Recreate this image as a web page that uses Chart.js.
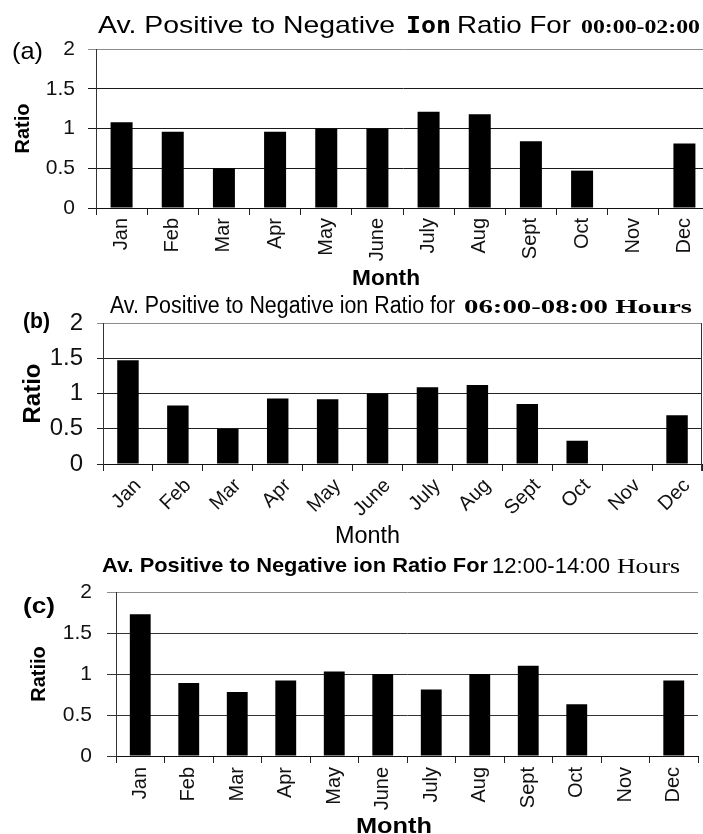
<!DOCTYPE html>
<html>
<head>
<meta charset="utf-8">
<title>Av. Positive to Negative Ion Ratio</title>
<script src="https://cdn.jsdelivr.net/npm/chart.js@4.4.1/dist/chart.umd.min.js"></script>
<style>
  html, body { margin: 0; padding: 0; background: #fff; overflow: hidden; width: 703px; height: 834px; }
  canvas { position: absolute; left: 0; }
  #panelA { top: 0; }
  #panelB { top: 290px; }
  #panelC { top: 550px; }
</style>
</head>
<body>
<canvas id="panelA" width="712" height="290"></canvas>
<canvas id="panelB" width="703" height="260"></canvas>
<canvas id="panelC" width="703" height="284"></canvas>
<script>
// monthly averages of positive / negative ion ratio, three time windows
const months = ['Jan', 'Feb', 'Mar', 'Apr', 'May', 'June', 'July', 'Aug', 'Sept', 'Oct', 'Nov', 'Dec'];
const ratio0002 = [1.08, 0.96, 0.50, 0.96, 1.00, 1.00, 1.21, 1.18, 0.84, 0.47, null, 0.81];
const ratio0608 = [1.47, 0.83, 0.50, 0.93, 0.92, 1.00, 1.09, 1.12, 0.85, 0.33, null, 0.69];
const ratio1214 = [1.73, 0.89, 0.78, 0.92, 1.03, 1.00, 0.81, 1.00, 1.10, 0.63, null, 0.92];
const yTicks = [0, 0.5, 1, 1.5, 2];

const SANS = "'Liberation Sans', Arial, sans-serif";
const SERIF = "'Liberation Serif', 'Times New Roman', serif";
const MONO = "'DejaVu Sans Mono', 'Courier New', monospace";

// free-standing text (headings, panel letter, x caption); each run is
// stretched or squeezed horizontally so it covers x0..x1
function textRuns(runs, frameRight){
  return {
    id: 'textRuns',
    afterDraw(chart){
      const ctx = chart.ctx;
      ctx.save();
      ctx.fillStyle = '#000';
      ctx.textBaseline = 'alphabetic';
      ctx.textAlign = 'left';
      runs.forEach(r => {
        ctx.font = r.font;
        const w = ctx.measureText(r.text).width;
        ctx.save();
        ctx.translate(r.x0, r.y);
        ctx.scale((r.x1 - r.x0) / w, 1);
        ctx.fillText(r.text, 0, 0);
        ctx.restore();
      });
      if(frameRight){
        const a = chart.chartArea;
        ctx.strokeStyle = '#333'; ctx.lineWidth = 1;
        ctx.beginPath(); ctx.moveTo(a.right - 0.5, a.top); ctx.lineTo(a.right - 0.5, a.bottom + 7); ctx.stroke();
      }
      ctx.restore();
    }
  };
}

function buildPanel(id, values, o){
  return new Chart(document.getElementById(id), {
    type: 'bar',
    data: {
      labels: months,
      datasets: [{ data: values, backgroundColor: '#000', borderWidth: 0, barPercentage: 0.43, categoryPercentage: 1 }]
    },
    options: {
      responsive: false,
      animation: false,
      devicePixelRatio: 1,
      layout: { padding: { top: o.padTop, right: o.padRight, left: 0, bottom: 0 } },
      plugins: { legend: { display: false }, tooltip: { enabled: false }, title: { display: false } },
      scales: {
        x: {
          grid: { drawOnChartArea: false, drawTicks: true, tickLength: o.xTick, color: '#222', offset: true },
          border: { display: true, color: '#111', width: 1 },
          ticks: {
            autoSkip: false, minRotation: o.rot, maxRotation: o.rot, padding: o.xPad,
            labelOffset: o.labelOffset || 0, color: '#111', font: { family: SANS, size: 20 }
          },
          afterFit: s => { s.height = o.xHeight; }
        },
        y: {
          min: 0, max: 2,
          afterBuildTicks: s => { s.ticks = yTicks.map(v => ({ value: v })); },
          grid: { color: c => (c.tick && c.tick.value === 2) ? '#8c8c8c' : o.gridColor, tickLength: o.yTick, drawTicks: true },
          border: { color: '#333', width: 1 },
          ticks: { padding: o.yPad, color: '#111', font: { family: SANS, size: o.yFont }, callback: v => String(v) },
          title: {
            display: true, text: o.yTitle, color: '#000',
            font: { family: SANS, size: o.yTitleSize, weight: 'bold' },
            padding: { top: o.yTitlePad, bottom: 0 }
          },
          afterFit: s => { s.width = o.yWidth; }
        }
      }
    },
    plugins: [textRuns(o.runs, o.frameRight)]
  });
}

// (a) 00:00-02:00
buildPanel('panelA', ratio0002, {
  padTop: 49, padRight: 2, xHeight: 82, yWidth: 96,
  xTick: 7, yTick: 8, xPad: 3, yPad: 13, rot: 90, yFont: 21, gridColor: '#1a1a1a',
  yTitle: 'Ratio', yTitleSize: 20, yTitlePad: 11,
  runs: [
    { text: '(a)', font: `24px ${SANS}`, x0: 12, x1: 43, y: 59 },
    { text: 'Av. Positive to Negative', font: `24px ${SANS}`, x0: 98, x1: 395, y: 33 },
    { text: 'Ion', font: `bold 23px ${MONO}`, x0: 406, x1: 451, y: 33 },
    { text: 'Ratio For', font: `24px ${SANS}`, x0: 457, x1: 571, y: 33 },
    { text: '00:00-02:00', font: `bold 19px ${SERIF}`, x0: 581, x1: 700, y: 33 },
    { text: 'Month', font: `bold 22px ${SANS}`, x0: 352, x1: 420, y: 285 }
  ]
});

// (b) 06:00-08:00
buildPanel('panelB', ratio0608, {
  padTop: 33, padRight: 1, xHeight: 86, yWidth: 103,
  xTick: 7, yTick: 6, xPad: 3, yPad: 14, rot: 45, labelOffset: 10, yFont: 24, gridColor: '#222',
  yTitle: 'Ratio', yTitleSize: 24, yTitlePad: 19, frameRight: true,
  runs: [
    { text: '(b)', font: `bold 22px ${SANS}`, x0: 23, x1: 50, y: 38 },
    { text: 'Av. Positive to Negative ion Ratio for', font: `23px ${SANS}`, x0: 110, x1: 455, y: 23 },
    { text: '06:00-08:00 Hours', font: `bold 18px ${SERIF}`, x0: 464, x1: 692, y: 23 },
    { text: 'Month', font: `23px ${SANS}`, x0: 335, x1: 400, y: 253 }
  ]
});

// (c) 12:00-14:00
buildPanel('panelC', ratio1214, {
  padTop: 42, padRight: 5, xHeight: 78, yWidth: 116,
  xTick: 7, yTick: 9, xPad: 4, yPad: 15, rot: 90, yFont: 21, gridColor: '#333',
  yTitle: 'Ratiio', yTitleSize: 20, yTitlePad: 27,
  runs: [
    { text: '(c)', font: `bold 22px ${SANS}`, x0: 23, x1: 55, y: 63 },
    { text: 'Av. Positive to Negative ion Ratio For', font: `bold 21px ${SANS}`, x0: 102, x1: 488, y: 22 },
    { text: '12:00-14:00', font: `22px ${SANS}`, x0: 492, x1: 610, y: 23 },
    { text: 'Hours', font: `22px ${SERIF}`, x0: 617, x1: 680, y: 23 },
    { text: 'Month', font: `bold 22px ${SANS}`, x0: 356, x1: 432, y: 283 }
  ]
});
</script>
</body>
</html>
